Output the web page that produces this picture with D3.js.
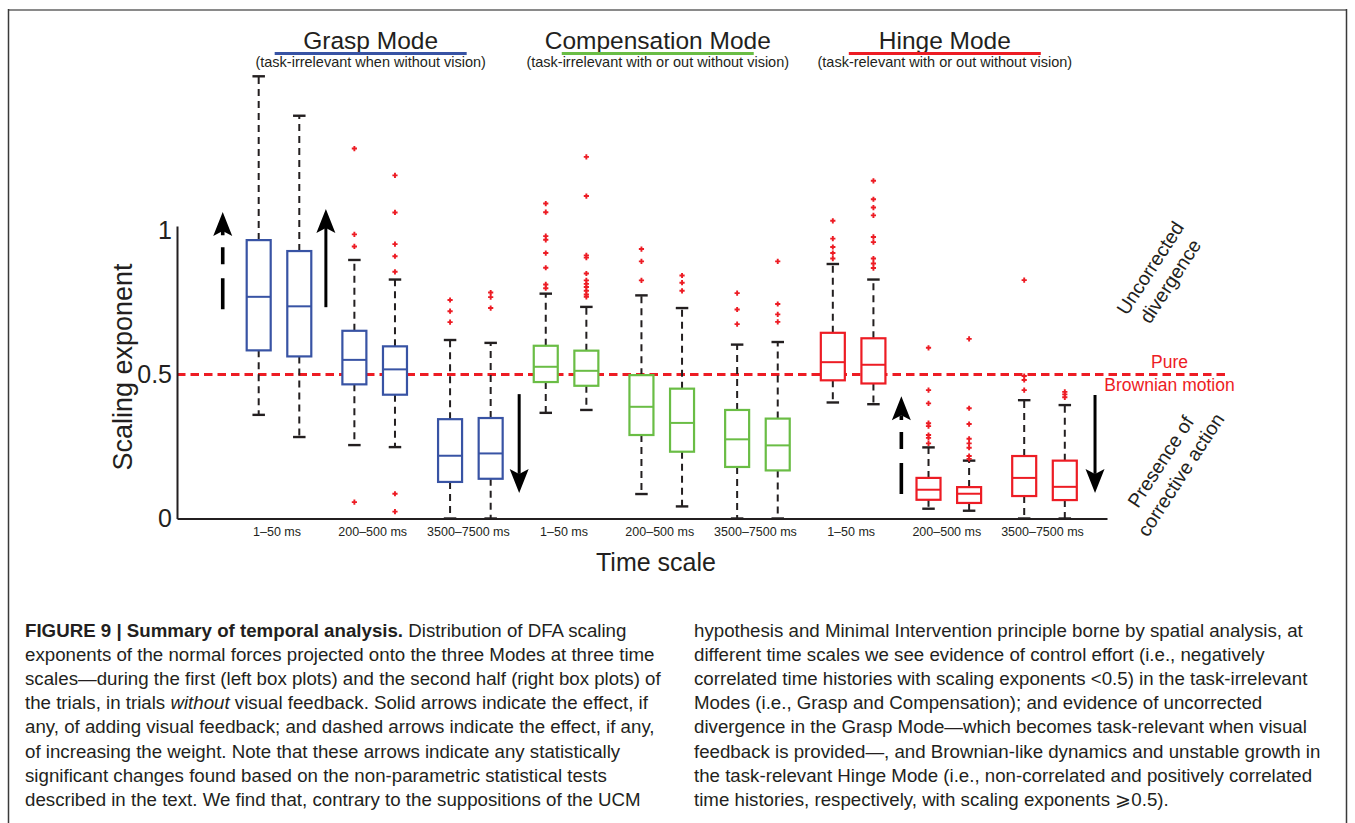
<!DOCTYPE html>
<html>
<head>
<meta charset="utf-8">
<script src="https://cdn.jsdelivr.net/npm/d3@7"></script>
<style>
  html, body { margin: 0; padding: 0; background: #fff; }
  svg { display: block; }
</style>
</head>
<body>
<svg id="fig" width="1355" height="823"></svg>
<script>
// ---- Categories -----------------------------------------------------------
const modes = ["Grasp Mode", "Compensation Mode", "Hinge Mode"];
const modeNotes = [
  "(task-irrelevant when without vision)",
  "(task-irrelevant with or out without vision)",
  "(task-relevant with or out without vision)"
];
const timeScales = ["1\u201350 ms", "200\u2013500 ms", "3500\u20137500 ms"];
const halves = ["first half", "second half"];
const yTicks = [0, 0.5, 1];
const brownianLevel = 0.5;

// ---- Box-plot statistics, ordered mode -> time scale -> half ---------------
const whiskerLow = [0.360, 0.283, 0.255, 0.248, 0.000, 0.000,
                    0.367, 0.377, 0.085, 0.042, 0.000, 0.000,
                    0.403, 0.397, 0.034, 0.027, 0.000, 0.000];
const quartile1  = [0.584, 0.563, 0.466, 0.430, 0.127, 0.138,
                    0.474, 0.461, 0.290, 0.232, 0.179, 0.167,
                    0.480, 0.469, 0.065, 0.054, 0.078, 0.064];
const medians    = [0.770, 0.737, 0.551, 0.518, 0.218, 0.226,
                    0.527, 0.513, 0.388, 0.332, 0.275, 0.254,
                    0.543, 0.534, 0.100, 0.086, 0.141, 0.110];
const quartile3  = [0.967, 0.929, 0.652, 0.598, 0.345, 0.349,
                    0.600, 0.583, 0.498, 0.451, 0.377, 0.347,
                    0.645, 0.626, 0.141, 0.109, 0.217, 0.201];
const whiskerHigh= [1.536, 1.399, 0.898, 0.830, 0.620, 0.610,
                    0.781, 0.735, 0.775, 0.731, 0.604, 0.613,
                    0.884, 0.830, 0.247, 0.201, 0.411, 0.394];
const outliers = [
  [], [],
  [1.285, 0.987, 0.945, 0.057],
  [1.192, 1.063, 0.953, 0.911, 0.857, 0.086, 0.024],
  [0.759, 0.720, 0.682],
  [0.785, 0.769, 0.731],
  [1.094, 1.064, 0.981, 0.968, 0.922, 0.871, 0.813, 0.800],
  [1.256, 1.120, 0.914, 0.906, 0.851, 0.827, 0.815, 0.804, 0.791, 0.778, 0.770],
  [0.936, 0.893, 0.827],
  [0.844, 0.819, 0.791],
  [0.783, 0.726, 0.675],
  [0.893, 0.745, 0.709, 0.683],
  [1.034, 0.972, 0.943, 0.922, 0.903],
  [1.173, 1.109, 1.080, 1.053, 0.978, 0.960, 0.903, 0.886, 0.870],
  [0.593, 0.446, 0.400, 0.331, 0.321, 0.290, 0.280, 0.261],
  [0.624, 0.383, 0.328, 0.277, 0.261, 0.246, 0.217, 0.207],
  [0.828, 0.495, 0.481, 0.446],
  [0.440, 0.431, 0.421]
];

// ---- Effect arrows: group index, side, start and end exponent -------------
const arrowGroup = [0, 0, 2, 7, 8];
const arrowSide  = [-0.588, 0.49, 0.51, -0.496, 0.528];
const arrowFrom  = [0.727, 0.734, 0.432, 0.085, 0.429];
const arrowTo    = [1.065, 1.075, 0.089, 0.425, 0.089];
const arrowDashed= [true, false, false, true, false];

// ---- Caption ----------------------------------------------------------------
const captionLeft = [
  [["FIGURE 9 | Summary of temporal analysis.", "b"], [" Distribution of DFA scaling", ""]],
  [["exponents of the normal forces projected onto the three Modes at three time", ""]],
  [["scales\u2014during the first (left box plots) and the second half (right box plots) of", ""]],
  [["the trials, in trials ", ""], ["without", "i"], [" visual feedback. Solid arrows indicate the effect, if", ""]],
  [["any, of adding visual feedback; and dashed arrows indicate the effect, if any,", ""]],
  [["of increasing the weight. Note that these arrows indicate any statistically", ""]],
  [["significant changes found based on the non-parametric statistical tests", ""]],
  [["described in the text. We find that, contrary to the suppositions of the UCM", ""]]
];
const captionRight = [
  [["hypothesis and Minimal Intervention principle borne by spatial analysis, at", ""]],
  [["different time scales we see evidence of control effort (i.e., negatively", ""]],
  [["correlated time histories with scaling exponents <0.5) in the task-irrelevant", ""]],
  [["Modes (i.e., Grasp and Compensation); and evidence of uncorrected", ""]],
  [["divergence in the Grasp Mode\u2014which becomes task-relevant when visual", ""]],
  [["feedback is provided\u2014, and Brownian-like dynamics and unstable growth in", ""]],
  [["the task-relevant Hinge Mode (i.e., non-correlated and positively correlated", ""]],
  [["time histories, respectively, with scaling exponents \u2a7e0.5).", ""]]
];

// ---- Styling ------------------------------------------------------------------
const modeColors = ["#3853a4", "#6abd45", "#ed1c24"];
const ink = "#231f20";
const red = "#ed1c24";
const font = "'Liberation Sans', Arial, Helvetica, sans-serif";

const svg = d3.select("#fig");

// Page frame
svg.append("line").attr("x1", 8).attr("x2", 1347).attr("y1", 10).attr("y2", 10)
  .attr("stroke", "#8a8a8a").attr("stroke-width", 2);
svg.append("line").attr("x1", 8.5).attr("x2", 8.5).attr("y1", 9).attr("y2", 823)
  .attr("stroke", "#3a3a3a").attr("stroke-width", 1.5);
svg.append("line").attr("x1", 1346.5).attr("x2", 1346.5).attr("y1", 9).attr("y2", 823)
  .attr("stroke", "#3a3a3a").attr("stroke-width", 1.5);

// ---- Scales -------------------------------------------------------------------
const groups = d3.range(modes.length * timeScales.length);
const x = d3.scaleBand().domain(groups).range([177, 1107])
  .paddingInner(0).paddingOuter(0.3595).align(0.787);
const half = d3.scalePoint().domain(halves).range([-20.3, 20.3]);
const y = d3.scaleLinear().domain([0, 1.016]).range([518.5, 226]);
const boxW = 24, capW = 12.5;

const gx = g => x(g) + x.bandwidth() / 2;

// Box records built from the arrays
const boxes = medians.map((m, k) => {
  const g = Math.floor(k / 2);
  return {
    k, g, mode: Math.floor(g / 3),
    cx: gx(g) + half(halves[k % 2]),
    lo: whiskerLow[k], q1: quartile1[k], med: m, q3: quartile3[k], hi: whiskerHigh[k],
    out: outliers[k]
  };
});

// ---- Brownian reference line -----------------------------------------------------
svg.append("line")
  .attr("x1", 177).attr("x2", 1229)
  .attr("y1", y(brownianLevel)).attr("y2", y(brownianLevel))
  .attr("stroke", red).attr("stroke-width", 3).attr("stroke-dasharray", "8.5,5");

// ---- Axes ---------------------------------------------------------------------
const yAxis = svg.append("g").attr("transform", "translate(177,0)")
  .call(d3.axisLeft(y).tickValues(yTicks).tickSize(0).tickSizeOuter(0).tickPadding(5)
    .tickFormat(d3.format("")));
yAxis.select(".domain").attr("stroke", ink).attr("stroke-width", 2);
yAxis.selectAll("text").attr("font-family", font).attr("font-size", 25).attr("fill", ink);

const xAxis = svg.append("g").attr("transform", `translate(0,${y(0)})`)
  .call(d3.axisBottom(x).tickSize(0).tickSizeOuter(0).tickPadding(8.6)
    .tickFormat(g => timeScales[g % timeScales.length]));
xAxis.select(".domain").attr("stroke", ink).attr("stroke-width", 2);
xAxis.selectAll("text").attr("font-family", font).attr("font-size", 12.5)
  .attr("fill", ink).attr("dx", -2);

svg.append("text")
  .attr("transform", "translate(132,367) rotate(-90)")
  .attr("text-anchor", "middle").attr("font-family", font).attr("font-size", 27)
  .attr("fill", ink).text("Scaling exponent");

svg.append("text")
  .attr("x", 656).attr("y", 571)
  .attr("text-anchor", "middle").attr("font-family", font).attr("font-size", 25)
  .attr("fill", ink).text("Time scale");

// ---- Box plots --------------------------------------------------------------------
const bx = svg.append("g").attr("class", "boxes");
const bg = bx.selectAll("g").data(boxes).join("g");

// whiskers
bg.append("line").attr("x1", d => d.cx).attr("x2", d => d.cx)
  .attr("y1", d => y(d.q3)).attr("y2", d => y(d.hi))
  .attr("stroke", ink).attr("stroke-width", 2).attr("stroke-dasharray", "7,5");
bg.append("line").attr("x1", d => d.cx).attr("x2", d => d.cx)
  .attr("y1", d => y(d.q1)).attr("y2", d => y(d.lo))
  .attr("stroke", ink).attr("stroke-width", 2).attr("stroke-dasharray", "7,5");
// caps
bg.append("line").attr("x1", d => d.cx - capW / 2).attr("x2", d => d.cx + capW / 2)
  .attr("y1", d => y(d.hi)).attr("y2", d => y(d.hi))
  .attr("stroke", ink).attr("stroke-width", 2.4);
bg.append("line").attr("x1", d => d.cx - capW / 2).attr("x2", d => d.cx + capW / 2)
  .attr("y1", d => y(d.lo)).attr("y2", d => y(d.lo))
  .attr("stroke", ink).attr("stroke-width", 2.4);
// box
bg.append("rect")
  .attr("x", d => d.cx - boxW / 2).attr("width", boxW)
  .attr("y", d => y(d.q3)).attr("height", d => y(d.q1) - y(d.q3))
  .attr("fill", "#fff").attr("stroke", d => modeColors[d.mode]).attr("stroke-width", 2.2);
// median
bg.append("line").attr("x1", d => d.cx - boxW / 2).attr("x2", d => d.cx + boxW / 2)
  .attr("y1", d => y(d.med)).attr("y2", d => y(d.med))
  .attr("stroke", d => modeColors[d.mode]).attr("stroke-width", 2);
// outliers as "+" markers
bg.selectAll("path.out").data(d => d.out.map(v => ({cx: d.cx, v})))
  .join("path").attr("class", "out")
  .attr("transform", o => `translate(${o.cx},${y(o.v)})`)
  .attr("d", "M-2.6,0H2.6M0,-2.6V2.6")
  .attr("stroke", red).attr("stroke-width", 1.9);

// ---- Effect arrows ------------------------------------------------------------------
const arrows = arrowGroup.map((g, i) => ({
  ax: gx(g) + arrowSide[i] * x.bandwidth(),
  from: arrowFrom[i], to: arrowTo[i], dashed: arrowDashed[i]
}));
const ag = svg.append("g").attr("class", "arrows");
arrows.forEach(a => {
  const y0 = y(a.from), y1 = y(a.to);
  const dir = Math.sign(y1 - y0);          // +1 pointing down, -1 pointing up
  const headLen = 24, notch = 19, halfW = 9.5;
  ag.append("line")
    .attr("x1", a.ax).attr("x2", a.ax)
    .attr("y1", y0).attr("y2", y1 - dir * notch)
    .attr("stroke", "#000").attr("stroke-width", a.dashed ? 3.6 : 3)
    .attr("stroke-dasharray", a.dashed ? "31,14,17,12" : null);
  ag.append("path")
    .attr("transform", `translate(${a.ax},${y1})`)
    .attr("d", `M0,0L${halfW},${-dir * headLen}L0,${-dir * notch}L${-halfW},${-dir * headLen}Z`)
    .attr("fill", "#000");
});

// ---- Mode headers -----------------------------------------------------------------
const modeCenter = m => (gx(m * 3) + gx(m * 3 + 2)) / 2 - 4;
const hdr = svg.append("g").attr("font-family", font).attr("fill", ink);
modes.forEach((m, i) => {
  const cx = modeCenter(i);
  hdr.append("text").attr("x", cx).attr("y", 48.5).attr("text-anchor", "middle")
    .attr("font-size", 24.5).text(m);
  hdr.append("line").attr("x1", cx - 96).attr("x2", cx + 96)
    .attr("y1", 53.5).attr("y2", 53.5)
    .attr("stroke", modeColors[i]).attr("stroke-width", 3);
  hdr.append("text").attr("x", cx).attr("y", 66.5).attr("text-anchor", "middle")
    .attr("font-size", 14.5).text(modeNotes[i]);
});

// ---- Right-hand annotations -------------------------------------------------------
svg.append("text").attr("x", 1169.5).attr("y", 367.5).attr("text-anchor", "middle")
  .attr("font-family", font).attr("font-size", 17.5).attr("fill", red).text("Pure");
svg.append("text").attr("x", 1169.5).attr("y", 390.5).attr("text-anchor", "middle")
  .attr("font-family", font).attr("font-size", 17.5).attr("fill", red).text("Brownian motion");

function slanted(cx, cy, lines) {
  const t = svg.append("text")
    .attr("transform", `translate(${cx},${cy}) rotate(-57)`)
    .attr("text-anchor", "middle").attr("font-family", font)
    .attr("font-size", 19.5).attr("fill", ink);
  lines.forEach((l, i) => {
    t.append("tspan").attr("x", 0).attr("y", (i - (lines.length - 1) / 2) * 24 + 7).text(l);
  });
}
slanted(1160, 274.5, ["Uncorrected", "divergence"]);
slanted(1170.5, 468, ["Presence of", "corrective action"]);

// ---- Caption ------------------------------------------------------------------------
function caption(lines, x0) {
  const g = svg.append("g").attr("font-family", font).attr("font-size", 18.7).attr("fill", ink);
  lines.forEach((runs, i) => {
    const t = g.append("text").attr("x", x0).attr("y", 637 + i * 24.1);
    runs.forEach(([s, st]) => {
      const sp = t.append("tspan").text(s);
      if (st === "b") sp.attr("font-weight", "bold");
      if (st === "i") sp.attr("font-style", "italic");
    });
  });
}
caption(captionLeft, 25);
caption(captionRight, 694);
</script>
</body>
</html>
